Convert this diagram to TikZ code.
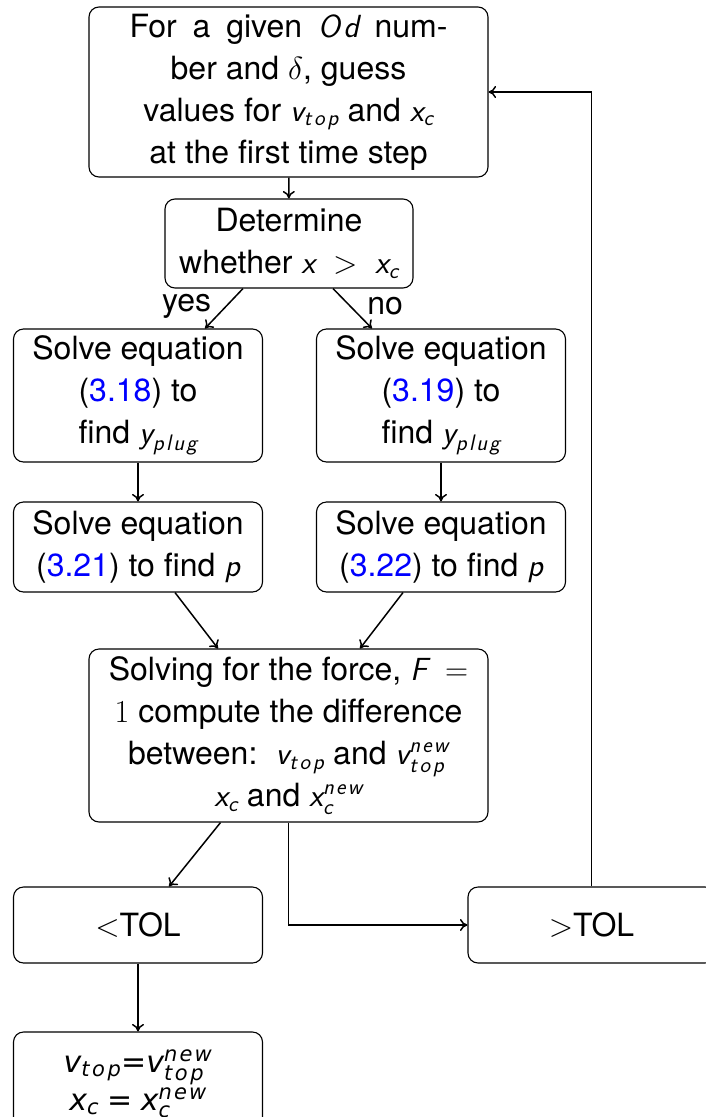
\RequirePackage{fix-cm}
\documentclass[tikz,border=0pt]{standalone}
\usepackage[no-math]{fontspec}
\usepackage{amsmath}
\setmainfont{TeX Gyre Heros}
\newfontfamily\djvfont{DejaVu Sans}
\usetikzlibrary{arrows.meta}
\newcommand\mv[1]{\text{\normalfont\sffamily\itshape #1}}
\newcommand\dv[1]{\text{\normalfont\djvfont\itshape #1}}
\newcommand\tp{t\kern.12em o\kern.12em p}
\newcommand\nw{n\kern.1em e\kern.1em w}
\newcommand\pl{p\kern.1em l\kern.1em u\kern.1em g}
\definecolor{linkblue}{RGB}{0,0,255}
\begin{document}
\begin{tikzpicture}[x=1pt,y=1pt,
  box/.style={draw, rounded corners=10pt, line width=1.1pt, align=center,
    font=\fontsize{32}{42}\selectfont, inner sep=0pt},
  lbl/.style={font=\fontsize{32}{42}\selectfont, inner sep=0pt},
  arr/.style={-{To[length=7.5pt,width=12pt]}, line width=1.5pt}]
\useasboundingbox (0,0) rectangle (705,-1117);

\node[box, minimum width=399, minimum height=170] (init) at (288.5,-92)
  {\makebox[318pt][s]{For a given $\mv{O\kern.1em d}$ num-}\\ber and $\delta$, guess\\values for $\mv{v}_{\mv{\tp}}$ and $\mv{x}_{\mv{c}}$\\at the first time step};
\node[box, minimum width=248, minimum height=89] (det) at (289,-243.5)
  {Determine\\whether $\mv{x}\;>\;\mv{x}_{\mv{c}}$};
\node[box, minimum width=249, minimum height=133] (s1) at (138,-395.5)
  {Solve equation\\(\textcolor{linkblue}{3.18}) to\\find $\mv{y}_{\mv{\pl}}$};
\node[box, minimum width=249, minimum height=133] (s2) at (441,-395.5)
  {Solve equation\\(\textcolor{linkblue}{3.19}) to\\find $\mv{y}_{\mv{\pl}}$};
\node[box, minimum width=249, minimum height=90] (p1) at (138,-547)
  {Solve equation\\(\textcolor{linkblue}{3.21}) to find $\mv{p}$};
\node[box, minimum width=249, minimum height=90] (p2) at (441,-547)
  {Solve equation\\(\textcolor{linkblue}{3.22}) to find $\mv{p}$};
\node[box, minimum width=399, minimum height=173] (solve) at (288.5,-735.5)
  {Solving for the force, $\mv{F}\;=$\\$1$ compute the difference\\between:\hspace{0.2em} $\mv{v}_{\mv{\tp}}$ and $\mv{v}_{\mv{\tp}}^{\mv{\nw}}$\\$\mv{x}_{\mv{c}}$ and $\mv{x}_{\mv{c}}^{\mv{\nw}}$};
\node[box, minimum width=249, minimum height=76] (lt) at (138,-925) {$<$TOL};
\node[box, minimum width=247, minimum height=76] (gt) at (591.5,-925) {$>$TOL};
\node[box, minimum width=249, minimum height=104, font=\fontsize{30}{38}\selectfont] (res) at (138,-1084)
  {$\dv{v}_{\dv{\tp}}$\text{\djvfont =}$\dv{v}_{\dv{\tp}}^{\dv{\nw}}$\\$\dv{x}_{\dv{c}}$ \text{\djvfont =} $\dv{x}_{\dv{c}}^{\dv{\nw}}$};

\draw[arr] (init) -- (det);
\draw[arr] ([xshift=-46]det.south) -- node[lbl, pos=0.45, left=14pt] (yes) {yes} ([xshift=67]s1.north);
\draw[arr] ([xshift=44]det.south) -- node[lbl, pos=0.45, right=16pt] (no) {no} ([xshift=-69]s2.north);
\draw[arr] (s1) -- (p1);
\draw[arr] (s2) -- (p2);
\draw[arr] ([xshift=37]p1.south) -- ([xshift=-70.5]solve.north);
\draw[arr] ([xshift=-38]p2.south) -- ([xshift=71.5]solve.north);
\draw[arr] ([xshift=-68]solve.south) -- ([xshift=31]lt.north);
\draw[arr] (solve.south) |- (gt.west);
\draw[arr] (gt.north) |- (init.east);
\draw[arr] (lt) -- (res);
\end{tikzpicture}
\end{document}
